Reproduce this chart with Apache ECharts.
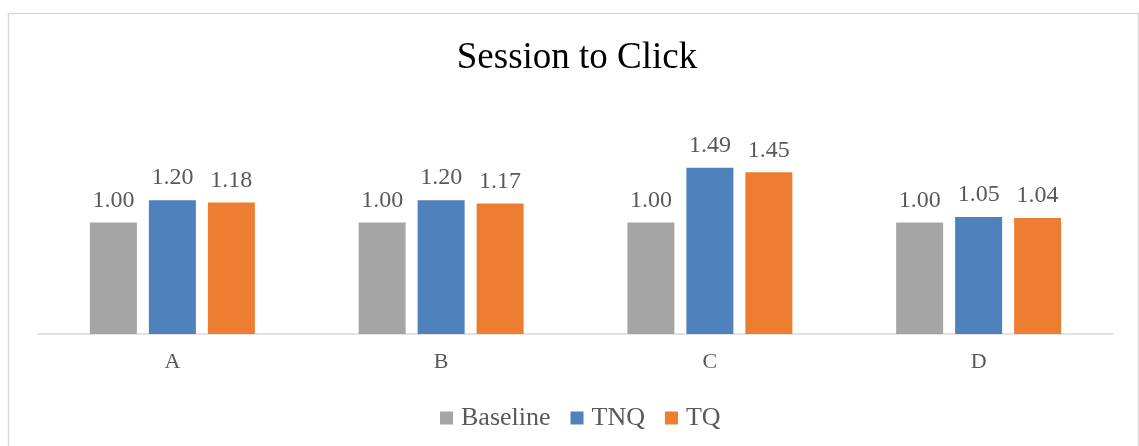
<!DOCTYPE html>
<html>
<head>
<meta charset="utf-8">
<style>
  html, body { margin: 0; padding: 0; background: #ffffff; }
  #chart { width: 1139px; height: 446px; }
</style>
<script src="https://cdn.jsdelivr.net/npm/echarts@6/dist/echarts.min.js"></script>
</head>
<body>
<div id="chart"></div>
<script>
// Session-to-click ratios per group, relative to the baseline
const categories = ['A', 'B', 'C', 'D'];
const baseline = [1.00, 1.00, 1.00, 1.00];
const tnq = [1.20, 1.20, 1.49, 1.05];
const tq = [1.18, 1.17, 1.45, 1.04];

const serif = '"Liberation Serif", "Times New Roman", serif';
const textGray = '#595959';

const labelStyle = {
  show: true,
  position: 'top',
  distance: 10,
  color: textGray,
  fontFamily: serif,
  fontSize: 24,
  formatter: p => p.value.toFixed(2)
};

function barSeries(name, data, color) {
  return {
    name: name,
    type: 'bar',
    data: data,
    barWidth: 47,
    barGap: '25.5%',
    itemStyle: { color: color },
    label: labelStyle,
    emphasis: { disabled: true }
  };
}

const chart = echarts.init(document.getElementById('chart'), null, { renderer: 'canvas' });
chart.setOption({
  animation: false,
  backgroundColor: '#ffffff',
  graphic: [{
    type: 'rect',
    shape: { x: 8.5, y: 13.5, width: 1130, height: 500 },
    style: { fill: 'none', stroke: '#d9d9d9', lineWidth: 1.5 },
    silent: true
  }],
  title: {
    text: 'Session to Click',
    left: 572,
    textAlign: 'center',
    top: 35,
    textStyle: { fontFamily: serif, fontSize: 37, fontWeight: 'normal', color: '#000000' }
  },
  legend: {
    data: ['Baseline', 'TNQ', 'TQ'],
    left: 435,
    top: 400,
    icon: 'rect',
    itemWidth: 13,
    itemHeight: 13,
    itemGap: 20,
    textStyle: { fontFamily: serif, fontSize: 26, color: textGray, padding: [0, 0, 0, 3] }
  },
  grid: { left: 38, right: 26, top: 111, bottom: 112, containLabel: false },
  xAxis: {
    type: 'category',
    data: categories,
    axisLine: { lineStyle: { color: '#d9d9d9', width: 1.5 } },
    axisTick: { show: false },
    axisLabel: { color: textGray, fontFamily: serif, fontSize: 22, margin: 17 }
  },
  yAxis: {
    type: 'value',
    min: 0,
    max: 2,
    interval: 0.5,
    show: false,
    splitLine: { show: false }
  },
  series: [
    barSeries('Baseline', baseline, '#a5a5a5'),
    barSeries('TNQ', tnq, '#4f81bd'),
    barSeries('TQ', tq, '#ed7d31')
  ]
});
</script>
</body>
</html>
